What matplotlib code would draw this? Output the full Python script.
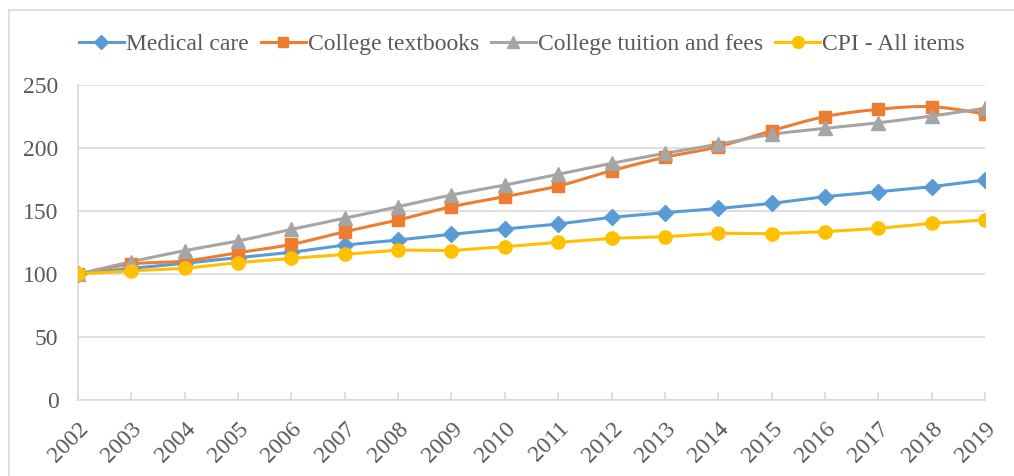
import numpy as np
import matplotlib
matplotlib.use("Agg")
import matplotlib.pyplot as plt
from matplotlib.lines import Line2D

years = ["2002", "2003", "2004", "2005", "2006", "2007", "2008", "2009", "2010",
         "2011", "2012", "2013", "2014", "2015", "2016", "2017", "2018", "2019"]
medical_care = [100, 104.5, 108.5, 113, 117.2, 123, 127, 131.5, 135.7,
                139.7, 145, 148.7, 152, 156, 161.4, 165.3, 169.3, 174.6]
college_textbooks = [100, 107.9, 110.3, 116.9, 123.5, 133.6, 142.9, 153.4, 161.4,
                     169.8, 182, 192.6, 201, 213.7, 224.9, 230.7, 232.8, 227]
college_tuition = [100, 109.8, 118.5, 126.2, 135.4, 144.2, 153.4, 162.7, 170.6,
                   179.1, 187.8, 195.8, 202.9, 210.8, 215.6, 220, 225.4, 231.5]
cpi_all = [100, 102.5, 104.5, 109, 112.4, 115.6, 119, 118.6, 121.7,
           125.1, 128.3, 129.6, 132.3, 132, 133.6, 136.2, 140.2, 142.9]
y_ticks = [0, 50, 100, 150, 200, 250]

series = [
    ("Medical care", medical_care, "#5B9BD5", "D", 8, False),
    ("College textbooks", college_textbooks, "#ED7D31", "s", 8.5, True),
    ("College tuition and fees", college_tuition, "#A5A5A5", "^", 9.5, True),
    ("CPI - All items", cpi_all, "#FFC000", "o", 9.5, False),
]

def smooth(x, y, n=20):
    x = np.asarray(x, float); y = np.asarray(y, float)
    px = np.concatenate([[x[0]], x, [x[-1]]])
    py = np.concatenate([[y[0]], y, [y[-1]]])
    xs, ys = [], []
    t = np.linspace(0, 1, n)
    for i in range(1, len(px) - 2):
        p0 = np.array([px[i], py[i]]); p3 = np.array([px[i + 1], py[i + 1]])
        c1 = p0 + (np.array([px[i + 1], py[i + 1]]) - np.array([px[i - 1], py[i - 1]])) / 6
        c2 = p3 - (np.array([px[i + 2], py[i + 2]]) - np.array([px[i], py[i]])) / 6
        b = ((1 - t) ** 3)[:, None] * p0 + (3 * (1 - t) ** 2 * t)[:, None] * c1 + \
            (3 * (1 - t) * t ** 2)[:, None] * c2 + (t ** 3)[:, None] * p3
        xs.extend(b[:, 0]); ys.extend(b[:, 1])
    return xs, ys

plt.rcParams['font.family'] = ['Liberation Serif', 'DejaVu Serif']
text_color = "#595959"
grid_color = "#D9D9D9"

fig = plt.figure(figsize=(10.14, 4.76), dpi=100)
ax = fig.add_axes([78 / 1014, 1 - 400 / 476, (985 - 78) / 1014, (400 - 85) / 476])

x = np.arange(len(years))
handles = []
for name, vals, color, marker, ms, sm in series:
    if sm:
        sx, sy = smooth(x, vals)
        ax.plot(sx, sy, color=color, lw=2.2, solid_capstyle="round", zorder=3)
    else:
        ax.plot(x, vals, color=color, lw=2.2, solid_capstyle="round", zorder=3)
    ax.plot(x, vals, linestyle="none", marker=marker, markersize=ms, color=color,
            markeredgecolor=color, zorder=4)
    handles.append(Line2D([], [], color=color, lw=2.2, marker=marker, markersize=ms - 1,
                          markeredgecolor=color, label=name))

ax.set_xlim(0, len(years) - 1)
ax.set_ylim(0, 250)
ax.set_yticks(y_ticks)
ax.set_xticks(x)
ax.set_xticklabels(years, rotation=45, ha="right", va="top", rotation_mode="anchor")
ax.yaxis.grid(True, color=grid_color, lw=1.2)
ax.set_axisbelow(True)
for s in ["top", "right"]:
    ax.spines[s].set_visible(False)
ax.spines["left"].set_color(grid_color)
ax.spines["left"].set_linewidth(1.2)
ax.spines["bottom"].set_color(grid_color)
ax.spines["bottom"].set_linewidth(1.2)
ax.tick_params(axis="y", length=0, pad=14, labelsize=17, labelcolor=text_color)
ax.tick_params(axis="x", direction="in", length=6, width=1.2, color=grid_color,
               pad=13, labelsize=17, labelcolor=text_color)

leg = fig.legend(handles=handles, loc="center", bbox_to_anchor=(522 / 1014, 1 - 44 / 476),
                 ncol=4, frameon=False, fontsize=17, handlelength=1.9, handletextpad=0.1,
                 columnspacing=0.5, borderpad=0)
for t in leg.get_texts():
    t.set_color(text_color)

# chart border (left and top visible)
fig.add_artist(Line2D([9 / 1014, 9 / 1014], [0, 1 - 10 / 476], color=grid_color, lw=1.2,
                      transform=fig.transFigure))
fig.add_artist(Line2D([9 / 1014, 1], [1 - 10 / 476, 1 - 10 / 476], color=grid_color, lw=1.2,
                      transform=fig.transFigure))

fig.savefig("out.png", dpi=100)
